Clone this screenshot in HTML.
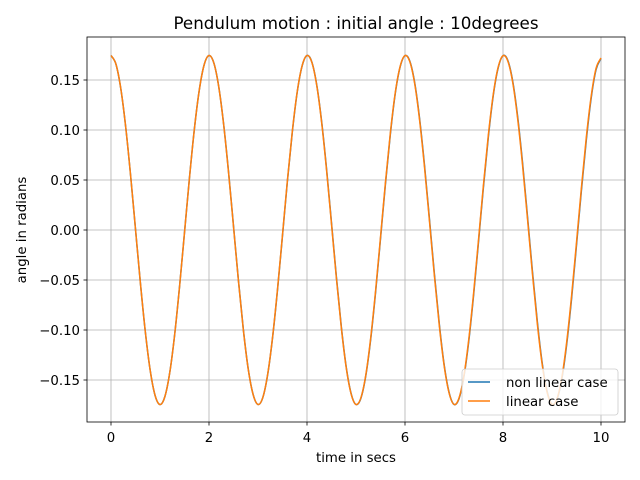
<!DOCTYPE html>
<html><head><meta charset="utf-8"><style>
html,body{margin:0;padding:0;background:#fff;}
svg{display:block;font-family:"DejaVu Sans","Liberation Sans",sans-serif;}
</style></head><body>
<svg id="chart" width="640" height="480" viewBox="0 0 640 480"></svg>
<script>
const times = Array.from({length:101},(_, i)=>i/10);
const linearCase = [
.1745,.1660,.1414,.1030,.0546,.0008,-.0530,-.1016,-.1404,-.1655,-.1745,-.1665,-.1423,-.1043,-.0561,-.0025,.0514,.1003,.1394,.1650,
.1745,.1668,.1428,.1050,.0570,.0035,-.0505,-.0995,-.1390,-.1645,-.1745,-.1672,-.1435,-.1060,-.0582,-.0048,.0495,.0985,.1382,.1642,
.1745,.1675,.1442,.1070,.0595,.0060,-.0482,-.0975,-.1375,-.1638,-.1745,-.1678,-.1450,-.1080,-.0607,-.0073,.0470,.0965,.1368,.1634,
.1744,.1681,.1457,.1090,.0620,.0086,-.0458,-.0955,-.1360,-.1630,-.1744,-.1684,-.1464,-.1100,-.0632,-.0099,.0445,.0945,.1352,.1626,
.1743,.1687,.1471,.1110,.0645,.0112,-.0433,-.0935,-.1345,-.1622,-.1743,-.1690,-.1478,-.1120,-.0657,-.0125,.0420,.0925,.1338,.1618,
.1720];
const nonLinearCase = [
.1745,.1660,.1414,.1030,.0546,.0008,-.0530,-.1016,-.1404,-.1655,-.1745,-.1665,-.1423,-.1043,-.0561,-.0025,.0514,.1003,.1394,.1650,
.1745,.1669,.1430,.1053,.0575,.0040,-.0500,-.0990,-.1387,-.1643,-.1745,-.1673,-.1438,-.1065,-.0590,-.0055,.0488,.0978,.1377,.1639,
.1745,.1678,.1448,.1080,.0607,.0072,-.0470,-.0965,-.1368,-.1634,-.1745,-.1682,-.1458,-.1093,-.0622,-.0088,.0455,.0952,.1360,.1629,
.1744,.1686,.1467,.1105,.0638,.0105,-.0440,-.0938,-.1350,-.1624,-.1744,-.1690,-.1475,-.1118,-.0652,-.0120,.0425,.0925,.1340,.1618,
.1743,.1694,.1484,.1130,.0668,.0136,-.0410,-.0912,-.1330,-.1612,-.1743,-.1697,-.1493,-.1143,-.0684,-.0152,.0394,.0898,.1320,.1605,
.1715];
const xTicks = [0,2,4,6,8,10];
const yTicks = [-0.15,-0.10,-0.05,0.00,0.05,0.10,0.15];

const L=87,R=625,T=37,B=422;
const xs = v => 111 + v*49;
const ys = v => 230 - v*1000;
const NS="http://www.w3.org/2000/svg";
const svg=document.getElementById('chart');
function mk(tag, attrs, parent){const e=document.createElementNS(NS,tag);for(const k in attrs)e.setAttribute(k,attrs[k]);(parent||svg).appendChild(e);return e;}

const grid=mk('g',{});


xTicks.forEach(t=>{
  const x=xs(t);
  const g=mk('line',{x1:x,x2:x,y1:T,y2:B,stroke:'#b0b0b0','stroke-width':0.8},grid);
  
  
  const tk=mk('line',{x1:x,x2:x,y1:B,y2:B+3.5,stroke:'#000','stroke-width':0.8});
  
  
  const lb=mk('text',{x:x,y:442,'font-size':'13.3','text-anchor':'middle',fill:'#000'});
  lb.textContent=String(t);
  
  
});
yTicks.forEach(t=>{
  const y=ys(t);
  const g=mk('line',{x1:L,x2:R,y1:y,y2:y,stroke:'#b0b0b0','stroke-width':0.8},grid);
  
  
  const tk=mk('line',{x1:L-3.5,x2:L,y1:y,y2:y,stroke:'#000','stroke-width':0.8});
  
  
  const lb=mk('text',{x:L-7,y:y+4.8,'font-size':'13.3','text-anchor':'end',fill:'#000'});
  lb.textContent=(t<0?'\u2212':'')+Math.abs(t).toFixed(2);
  
  
});

function smoothPath(xsArr, ysArr){
  const p=xsArr.map((t,i)=>[xs(t),ys(ysArr[i])]);
  let d='M'+p[0][0]+','+p[0][1];
  for(let i=0;i<p.length-1;i++){
    const p0=p[Math.max(0,i-1)],p1=p[i],p2=p[i+1],p3=p[Math.min(p.length-1,i+2)];
    const c1=[p1[0]+(p2[0]-p0[0])/6,p1[1]+(p2[1]-p0[1])/6];
    const c2=[p2[0]-(p3[0]-p1[0])/6,p2[1]-(p3[1]-p1[1])/6];
    d+=' C'+c1[0].toFixed(2)+','+c1[1].toFixed(2)+' '+c2[0].toFixed(2)+','+c2[1].toFixed(2)+' '+p2[0].toFixed(2)+','+p2[1].toFixed(2);
  }
  return d;
}
const s1=mk('path',{d:smoothPath(times,nonLinearCase),fill:'none',stroke:'#1f77b4','stroke-width':1.5});


const s2=mk('path',{d:smoothPath(times,linearCase),fill:'none',stroke:'#ff7f0e','stroke-width':1.5});



const frame=mk('rect',{x:L,y:T,width:R-L,height:B-T,fill:'none',stroke:'#000','stroke-width':0.8});



const title=mk('text',{x:356,y:29,'font-size':'16.7','text-anchor':'middle',fill:'#000'});
title.textContent='Pendulum motion : initial angle : 10degrees';


const xl=mk('text',{x:356,y:462,'font-size':'13.3','text-anchor':'middle',fill:'#000'});
xl.textContent='time in secs';


const yl=mk('text',{x:26,y:230,'font-size':'13.3','text-anchor':'middle',fill:'#000',transform:'rotate(-90 26 230)'});
yl.textContent='angle in radians';



const lg=mk('g',{});


mk('rect',{x:462,y:369,width:156,height:46,rx:3,fill:'#fff','fill-opacity':0.8,stroke:'#ccc','stroke-width':0.8},lg);
[['non linear case','#1f77b4',382],['linear case','#ff7f0e',401]].forEach(([n,c,y])=>{
  const e=mk('g',{},lg);
  
  
  mk('line',{x1:468,x2:490,y1:y,y2:y,stroke:c,'stroke-width':1.5},e);
  const t=mk('text',{x:506,y:y+4.8,'font-size':'13.3',fill:'#000'},e);
  t.textContent=n;
});
</script>
</body></html>
